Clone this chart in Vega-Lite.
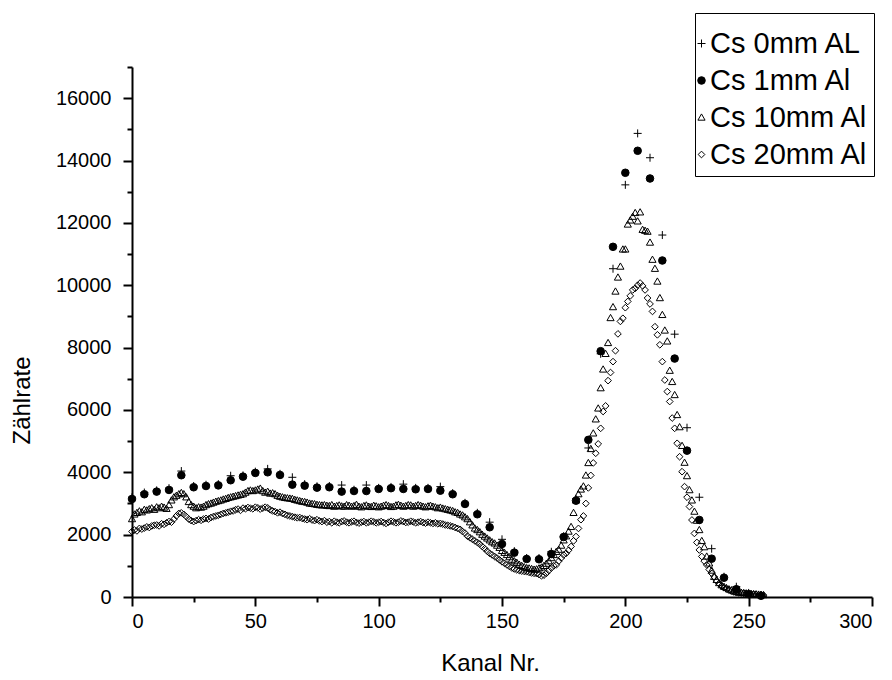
{
"$schema":"https://vega.github.io/schema/vega-lite/v6.json",
"width":740,"height":530,
"autosize":"none",
"padding":{"left":132,"top":67,"right":20,"bottom":83},
"background":"white",
"config":{"view":{"stroke":null},"font":"Liberation Sans"},
"data":{"values":[
{"s":"Cs 0mm AL","k":0,"n":3200},{"s":"Cs 0mm AL","k":5,"n":3350},{"s":"Cs 0mm AL","k":10,"n":3420},{"s":"Cs 0mm AL","k":15,"n":3490},{"s":"Cs 0mm AL","k":20,"n":4040},{"s":"Cs 0mm AL","k":25,"n":3560},{"s":"Cs 0mm AL","k":30,"n":3600},{"s":"Cs 0mm AL","k":35,"n":3620},{"s":"Cs 0mm AL","k":40,"n":3890},{"s":"Cs 0mm AL","k":45,"n":3900},{"s":"Cs 0mm AL","k":50,"n":4020},{"s":"Cs 0mm AL","k":55,"n":4110},{"s":"Cs 0mm AL","k":60,"n":3950},{"s":"Cs 0mm AL","k":65,"n":3840},{"s":"Cs 0mm AL","k":70,"n":3620},{"s":"Cs 0mm AL","k":75,"n":3550},{"s":"Cs 0mm AL","k":80,"n":3560},{"s":"Cs 0mm AL","k":85,"n":3590},{"s":"Cs 0mm AL","k":90,"n":3440},{"s":"Cs 0mm AL","k":95,"n":3590},{"s":"Cs 0mm AL","k":100,"n":3500},{"s":"Cs 0mm AL","k":105,"n":3530},{"s":"Cs 0mm AL","k":110,"n":3620},{"s":"Cs 0mm AL","k":115,"n":3500},{"s":"Cs 0mm AL","k":120,"n":3500},{"s":"Cs 0mm AL","k":125,"n":3540},{"s":"Cs 0mm AL","k":130,"n":3330},{"s":"Cs 0mm AL","k":135,"n":3020},{"s":"Cs 0mm AL","k":140,"n":2700},{"s":"Cs 0mm AL","k":145,"n":2400},{"s":"Cs 0mm AL","k":150,"n":1850},{"s":"Cs 0mm AL","k":155,"n":1470},{"s":"Cs 0mm AL","k":160,"n":1250},{"s":"Cs 0mm AL","k":165,"n":1250},{"s":"Cs 0mm AL","k":170,"n":1450},{"s":"Cs 0mm AL","k":175,"n":1950},{"s":"Cs 0mm AL","k":180,"n":3150},{"s":"Cs 0mm AL","k":185,"n":4780},{"s":"Cs 0mm AL","k":190,"n":7800},{"s":"Cs 0mm AL","k":195,"n":10530},{"s":"Cs 0mm AL","k":200,"n":13220},{"s":"Cs 0mm AL","k":205,"n":14870},{"s":"Cs 0mm AL","k":210,"n":14090},{"s":"Cs 0mm AL","k":215,"n":11610},{"s":"Cs 0mm AL","k":220,"n":8430},{"s":"Cs 0mm AL","k":225,"n":5430},{"s":"Cs 0mm AL","k":230,"n":3200},{"s":"Cs 0mm AL","k":235,"n":1550},{"s":"Cs 0mm AL","k":240,"n":650},{"s":"Cs 0mm AL","k":245,"n":330},{"s":"Cs 0mm AL","k":250,"n":130},{"s":"Cs 0mm AL","k":255,"n":60},
{"s":"Cs 1mm Al","k":0,"n":3145},{"s":"Cs 1mm Al","k":5,"n":3296},{"s":"Cs 1mm Al","k":10,"n":3380},{"s":"Cs 1mm Al","k":15,"n":3434},{"s":"Cs 1mm Al","k":20,"n":3906},{"s":"Cs 1mm Al","k":25,"n":3520},{"s":"Cs 1mm Al","k":30,"n":3560},{"s":"Cs 1mm Al","k":35,"n":3580},{"s":"Cs 1mm Al","k":40,"n":3745},{"s":"Cs 1mm Al","k":45,"n":3860},{"s":"Cs 1mm Al","k":50,"n":3980},{"s":"Cs 1mm Al","k":55,"n":4000},{"s":"Cs 1mm Al","k":60,"n":3915},{"s":"Cs 1mm Al","k":65,"n":3604},{"s":"Cs 1mm Al","k":70,"n":3572},{"s":"Cs 1mm Al","k":75,"n":3508},{"s":"Cs 1mm Al","k":80,"n":3520},{"s":"Cs 1mm Al","k":85,"n":3380},{"s":"Cs 1mm Al","k":90,"n":3400},{"s":"Cs 1mm Al","k":95,"n":3400},{"s":"Cs 1mm Al","k":100,"n":3466},{"s":"Cs 1mm Al","k":105,"n":3490},{"s":"Cs 1mm Al","k":110,"n":3466},{"s":"Cs 1mm Al","k":115,"n":3456},{"s":"Cs 1mm Al","k":120,"n":3466},{"s":"Cs 1mm Al","k":125,"n":3411},{"s":"Cs 1mm Al","k":130,"n":3296},{"s":"Cs 1mm Al","k":135,"n":2985},{"s":"Cs 1mm Al","k":140,"n":2654},{"s":"Cs 1mm Al","k":145,"n":2237},{"s":"Cs 1mm Al","k":150,"n":1701},{"s":"Cs 1mm Al","k":155,"n":1422},{"s":"Cs 1mm Al","k":160,"n":1220},{"s":"Cs 1mm Al","k":165,"n":1210},{"s":"Cs 1mm Al","k":170,"n":1380},{"s":"Cs 1mm Al","k":175,"n":1925},{"s":"Cs 1mm Al","k":180,"n":3090},{"s":"Cs 1mm Al","k":185,"n":5040},{"s":"Cs 1mm Al","k":190,"n":7885},{"s":"Cs 1mm Al","k":195,"n":11232},{"s":"Cs 1mm Al","k":200,"n":13607},{"s":"Cs 1mm Al","k":205,"n":14313},{"s":"Cs 1mm Al","k":210,"n":13424},{"s":"Cs 1mm Al","k":215,"n":10793},{"s":"Cs 1mm Al","k":220,"n":7648},{"s":"Cs 1mm Al","k":225,"n":4695},{"s":"Cs 1mm Al","k":230,"n":2471},{"s":"Cs 1mm Al","k":235,"n":1229},{"s":"Cs 1mm Al","k":240,"n":619},{"s":"Cs 1mm Al","k":245,"n":250},{"s":"Cs 1mm Al","k":250,"n":90},{"s":"Cs 1mm Al","k":255,"n":40},
{"s":"Cs 10mm Al","k":0,"n":2500},{"s":"Cs 10mm Al","k":1,"n":2650},{"s":"Cs 10mm Al","k":2,"n":2700},{"s":"Cs 10mm Al","k":3,"n":2750},{"s":"Cs 10mm Al","k":4,"n":2720},{"s":"Cs 10mm Al","k":5,"n":2800},{"s":"Cs 10mm Al","k":6,"n":2780},{"s":"Cs 10mm Al","k":7,"n":2820},{"s":"Cs 10mm Al","k":8,"n":2850},{"s":"Cs 10mm Al","k":9,"n":2800},{"s":"Cs 10mm Al","k":10,"n":2880},{"s":"Cs 10mm Al","k":11,"n":2850},{"s":"Cs 10mm Al","k":12,"n":2900},{"s":"Cs 10mm Al","k":13,"n":2870},{"s":"Cs 10mm Al","k":14,"n":2830},{"s":"Cs 10mm Al","k":15,"n":2950},{"s":"Cs 10mm Al","k":16,"n":3100},{"s":"Cs 10mm Al","k":17,"n":3200},{"s":"Cs 10mm Al","k":18,"n":3250},{"s":"Cs 10mm Al","k":19,"n":3300},{"s":"Cs 10mm Al","k":20,"n":3340},{"s":"Cs 10mm Al","k":21,"n":3300},{"s":"Cs 10mm Al","k":22,"n":3200},{"s":"Cs 10mm Al","k":23,"n":3050},{"s":"Cs 10mm Al","k":24,"n":2950},{"s":"Cs 10mm Al","k":25,"n":2900},{"s":"Cs 10mm Al","k":26,"n":2850},{"s":"Cs 10mm Al","k":27,"n":2880},{"s":"Cs 10mm Al","k":28,"n":2870},{"s":"Cs 10mm Al","k":29,"n":2900},{"s":"Cs 10mm Al","k":30,"n":2950},{"s":"Cs 10mm Al","k":31,"n":2980},{"s":"Cs 10mm Al","k":32,"n":3000},{"s":"Cs 10mm Al","k":33,"n":3030},{"s":"Cs 10mm Al","k":34,"n":3060},{"s":"Cs 10mm Al","k":35,"n":3080},{"s":"Cs 10mm Al","k":36,"n":3100},{"s":"Cs 10mm Al","k":37,"n":3130},{"s":"Cs 10mm Al","k":38,"n":3150},{"s":"Cs 10mm Al","k":39,"n":3180},{"s":"Cs 10mm Al","k":40,"n":3200},{"s":"Cs 10mm Al","k":41,"n":3220},{"s":"Cs 10mm Al","k":42,"n":3240},{"s":"Cs 10mm Al","k":43,"n":3260},{"s":"Cs 10mm Al","k":44,"n":3280},{"s":"Cs 10mm Al","k":45,"n":3300},{"s":"Cs 10mm Al","k":46,"n":3350},{"s":"Cs 10mm Al","k":47,"n":3400},{"s":"Cs 10mm Al","k":48,"n":3420},{"s":"Cs 10mm Al","k":49,"n":3400},{"s":"Cs 10mm Al","k":50,"n":3420},{"s":"Cs 10mm Al","k":51,"n":3450},{"s":"Cs 10mm Al","k":52,"n":3480},{"s":"Cs 10mm Al","k":53,"n":3400},{"s":"Cs 10mm Al","k":54,"n":3350},{"s":"Cs 10mm Al","k":55,"n":3380},{"s":"Cs 10mm Al","k":56,"n":3320},{"s":"Cs 10mm Al","k":57,"n":3330},{"s":"Cs 10mm Al","k":58,"n":3300},{"s":"Cs 10mm Al","k":59,"n":3250},{"s":"Cs 10mm Al","k":60,"n":3220},{"s":"Cs 10mm Al","k":61,"n":3200},{"s":"Cs 10mm Al","k":62,"n":3180},{"s":"Cs 10mm Al","k":63,"n":3170},{"s":"Cs 10mm Al","k":64,"n":3160},{"s":"Cs 10mm Al","k":65,"n":3150},{"s":"Cs 10mm Al","k":66,"n":3120},{"s":"Cs 10mm Al","k":67,"n":3100},{"s":"Cs 10mm Al","k":68,"n":3080},{"s":"Cs 10mm Al","k":69,"n":3060},{"s":"Cs 10mm Al","k":70,"n":3050},{"s":"Cs 10mm Al","k":71,"n":3030},{"s":"Cs 10mm Al","k":72,"n":3000},{"s":"Cs 10mm Al","k":73,"n":2990},{"s":"Cs 10mm Al","k":74,"n":2980},{"s":"Cs 10mm Al","k":75,"n":2960},{"s":"Cs 10mm Al","k":76,"n":2950},{"s":"Cs 10mm Al","k":77,"n":2940},{"s":"Cs 10mm Al","k":78,"n":2950},{"s":"Cs 10mm Al","k":79,"n":2930},{"s":"Cs 10mm Al","k":80,"n":2920},{"s":"Cs 10mm Al","k":81,"n":2950},{"s":"Cs 10mm Al","k":82,"n":2900},{"s":"Cs 10mm Al","k":83,"n":2920},{"s":"Cs 10mm Al","k":84,"n":2940},{"s":"Cs 10mm Al","k":85,"n":2910},{"s":"Cs 10mm Al","k":86,"n":2900},{"s":"Cs 10mm Al","k":87,"n":2950},{"s":"Cs 10mm Al","k":88,"n":2930},{"s":"Cs 10mm Al","k":89,"n":2900},{"s":"Cs 10mm Al","k":90,"n":2920},{"s":"Cs 10mm Al","k":91,"n":2960},{"s":"Cs 10mm Al","k":92,"n":2900},{"s":"Cs 10mm Al","k":93,"n":2880},{"s":"Cs 10mm Al","k":94,"n":2920},{"s":"Cs 10mm Al","k":95,"n":2940},{"s":"Cs 10mm Al","k":96,"n":2900},{"s":"Cs 10mm Al","k":97,"n":2890},{"s":"Cs 10mm Al","k":98,"n":2930},{"s":"Cs 10mm Al","k":99,"n":2910},{"s":"Cs 10mm Al","k":100,"n":2880},{"s":"Cs 10mm Al","k":101,"n":2900},{"s":"Cs 10mm Al","k":102,"n":2930},{"s":"Cs 10mm Al","k":103,"n":2950},{"s":"Cs 10mm Al","k":104,"n":2920},{"s":"Cs 10mm Al","k":105,"n":2890},{"s":"Cs 10mm Al","k":106,"n":2900},{"s":"Cs 10mm Al","k":107,"n":2940},{"s":"Cs 10mm Al","k":108,"n":2960},{"s":"Cs 10mm Al","k":109,"n":2930},{"s":"Cs 10mm Al","k":110,"n":2900},{"s":"Cs 10mm Al","k":111,"n":2920},{"s":"Cs 10mm Al","k":112,"n":2950},{"s":"Cs 10mm Al","k":113,"n":2940},{"s":"Cs 10mm Al","k":114,"n":2900},{"s":"Cs 10mm Al","k":115,"n":2920},{"s":"Cs 10mm Al","k":116,"n":2950},{"s":"Cs 10mm Al","k":117,"n":2930},{"s":"Cs 10mm Al","k":118,"n":2900},{"s":"Cs 10mm Al","k":119,"n":2880},{"s":"Cs 10mm Al","k":120,"n":2910},{"s":"Cs 10mm Al","k":121,"n":2930},{"s":"Cs 10mm Al","k":122,"n":2900},{"s":"Cs 10mm Al","k":123,"n":2880},{"s":"Cs 10mm Al","k":124,"n":2850},{"s":"Cs 10mm Al","k":125,"n":2870},{"s":"Cs 10mm Al","k":126,"n":2840},{"s":"Cs 10mm Al","k":127,"n":2820},{"s":"Cs 10mm Al","k":128,"n":2800},{"s":"Cs 10mm Al","k":129,"n":2780},{"s":"Cs 10mm Al","k":130,"n":2760},{"s":"Cs 10mm Al","k":131,"n":2720},{"s":"Cs 10mm Al","k":132,"n":2700},{"s":"Cs 10mm Al","k":133,"n":2650},{"s":"Cs 10mm Al","k":134,"n":2620},{"s":"Cs 10mm Al","k":135,"n":2560},{"s":"Cs 10mm Al","k":136,"n":2500},{"s":"Cs 10mm Al","k":137,"n":2400},{"s":"Cs 10mm Al","k":138,"n":2300},{"s":"Cs 10mm Al","k":139,"n":2200},{"s":"Cs 10mm Al","k":140,"n":2150},{"s":"Cs 10mm Al","k":141,"n":2080},{"s":"Cs 10mm Al","k":142,"n":2000},{"s":"Cs 10mm Al","k":143,"n":1940},{"s":"Cs 10mm Al","k":144,"n":1880},{"s":"Cs 10mm Al","k":145,"n":1820},{"s":"Cs 10mm Al","k":146,"n":1760},{"s":"Cs 10mm Al","k":147,"n":1720},{"s":"Cs 10mm Al","k":148,"n":1650},{"s":"Cs 10mm Al","k":149,"n":1580},{"s":"Cs 10mm Al","k":150,"n":1480},{"s":"Cs 10mm Al","k":151,"n":1420},{"s":"Cs 10mm Al","k":152,"n":1350},{"s":"Cs 10mm Al","k":153,"n":1280},{"s":"Cs 10mm Al","k":154,"n":1200},{"s":"Cs 10mm Al","k":155,"n":1150},{"s":"Cs 10mm Al","k":156,"n":1100},{"s":"Cs 10mm Al","k":157,"n":1040},{"s":"Cs 10mm Al","k":158,"n":1000},{"s":"Cs 10mm Al","k":159,"n":960},{"s":"Cs 10mm Al","k":160,"n":930},{"s":"Cs 10mm Al","k":161,"n":920},{"s":"Cs 10mm Al","k":162,"n":900},{"s":"Cs 10mm Al","k":163,"n":880},{"s":"Cs 10mm Al","k":164,"n":890},{"s":"Cs 10mm Al","k":165,"n":920},{"s":"Cs 10mm Al","k":166,"n":950},{"s":"Cs 10mm Al","k":167,"n":1000},{"s":"Cs 10mm Al","k":168,"n":1070},{"s":"Cs 10mm Al","k":169,"n":1150},{"s":"Cs 10mm Al","k":170,"n":1250},{"s":"Cs 10mm Al","k":171,"n":1350},{"s":"Cs 10mm Al","k":172,"n":1450},{"s":"Cs 10mm Al","k":173,"n":1520},{"s":"Cs 10mm Al","k":174,"n":1650},{"s":"Cs 10mm Al","k":175,"n":1820},{"s":"Cs 10mm Al","k":176,"n":1950},{"s":"Cs 10mm Al","k":177,"n":2100},{"s":"Cs 10mm Al","k":178,"n":2250},{"s":"Cs 10mm Al","k":179,"n":2700},{"s":"Cs 10mm Al","k":180,"n":3100},{"s":"Cs 10mm Al","k":181,"n":3300},{"s":"Cs 10mm Al","k":182,"n":3450},{"s":"Cs 10mm Al","k":183,"n":3550},{"s":"Cs 10mm Al","k":184,"n":3900},{"s":"Cs 10mm Al","k":185,"n":4300},{"s":"Cs 10mm Al","k":186,"n":4750},{"s":"Cs 10mm Al","k":187,"n":5250},{"s":"Cs 10mm Al","k":188,"n":5700},{"s":"Cs 10mm Al","k":189,"n":6050},{"s":"Cs 10mm Al","k":190,"n":6700},{"s":"Cs 10mm Al","k":191,"n":7300},{"s":"Cs 10mm Al","k":192,"n":7800},{"s":"Cs 10mm Al","k":193,"n":8150},{"s":"Cs 10mm Al","k":194,"n":8950},{"s":"Cs 10mm Al","k":195,"n":9300},{"s":"Cs 10mm Al","k":196,"n":9800},{"s":"Cs 10mm Al","k":197,"n":10250},{"s":"Cs 10mm Al","k":198,"n":10600},{"s":"Cs 10mm Al","k":199,"n":11150},{"s":"Cs 10mm Al","k":200,"n":11150},{"s":"Cs 10mm Al","k":201,"n":11950},{"s":"Cs 10mm Al","k":202,"n":12080},{"s":"Cs 10mm Al","k":203,"n":12200},{"s":"Cs 10mm Al","k":204,"n":12320},{"s":"Cs 10mm Al","k":205,"n":12050},{"s":"Cs 10mm Al","k":206,"n":12340},{"s":"Cs 10mm Al","k":207,"n":11780},{"s":"Cs 10mm Al","k":208,"n":11750},{"s":"Cs 10mm Al","k":209,"n":11720},{"s":"Cs 10mm Al","k":210,"n":11370},{"s":"Cs 10mm Al","k":211,"n":10820},{"s":"Cs 10mm Al","k":212,"n":10530},{"s":"Cs 10mm Al","k":213,"n":10120},{"s":"Cs 10mm Al","k":214,"n":9590},{"s":"Cs 10mm Al","k":215,"n":9050},{"s":"Cs 10mm Al","k":216,"n":8550},{"s":"Cs 10mm Al","k":217,"n":8200},{"s":"Cs 10mm Al","k":218,"n":7260},{"s":"Cs 10mm Al","k":219,"n":6900},{"s":"Cs 10mm Al","k":220,"n":6480},{"s":"Cs 10mm Al","k":221,"n":5840},{"s":"Cs 10mm Al","k":222,"n":5450},{"s":"Cs 10mm Al","k":223,"n":4850},{"s":"Cs 10mm Al","k":224,"n":4310},{"s":"Cs 10mm Al","k":225,"n":3880},{"s":"Cs 10mm Al","k":226,"n":3430},{"s":"Cs 10mm Al","k":227,"n":3100},{"s":"Cs 10mm Al","k":228,"n":2740},{"s":"Cs 10mm Al","k":229,"n":2450},{"s":"Cs 10mm Al","k":230,"n":2150},{"s":"Cs 10mm Al","k":231,"n":1800},{"s":"Cs 10mm Al","k":232,"n":1600},{"s":"Cs 10mm Al","k":233,"n":1300},{"s":"Cs 10mm Al","k":234,"n":1080},{"s":"Cs 10mm Al","k":235,"n":850},{"s":"Cs 10mm Al","k":236,"n":650},{"s":"Cs 10mm Al","k":237,"n":550},{"s":"Cs 10mm Al","k":238,"n":450},{"s":"Cs 10mm Al","k":239,"n":380},{"s":"Cs 10mm Al","k":240,"n":330},{"s":"Cs 10mm Al","k":241,"n":290},{"s":"Cs 10mm Al","k":242,"n":250},{"s":"Cs 10mm Al","k":243,"n":220},{"s":"Cs 10mm Al","k":244,"n":190},{"s":"Cs 10mm Al","k":245,"n":170},{"s":"Cs 10mm Al","k":246,"n":150},{"s":"Cs 10mm Al","k":247,"n":140},{"s":"Cs 10mm Al","k":248,"n":130},{"s":"Cs 10mm Al","k":249,"n":120},{"s":"Cs 10mm Al","k":250,"n":110},{"s":"Cs 10mm Al","k":251,"n":100},{"s":"Cs 10mm Al","k":252,"n":96},{"s":"Cs 10mm Al","k":253,"n":90},{"s":"Cs 10mm Al","k":254,"n":80},{"s":"Cs 10mm Al","k":255,"n":70},{"s":"Cs 10mm Al","k":256,"n":64},
{"s":"Cs 20mm Al","k":0,"n":2100},{"s":"Cs 20mm Al","k":1,"n":2150},{"s":"Cs 20mm Al","k":2,"n":2120},{"s":"Cs 20mm Al","k":3,"n":2200},{"s":"Cs 20mm Al","k":4,"n":2180},{"s":"Cs 20mm Al","k":5,"n":2210},{"s":"Cs 20mm Al","k":6,"n":2250},{"s":"Cs 20mm Al","k":7,"n":2230},{"s":"Cs 20mm Al","k":8,"n":2280},{"s":"Cs 20mm Al","k":9,"n":2300},{"s":"Cs 20mm Al","k":10,"n":2310},{"s":"Cs 20mm Al","k":11,"n":2280},{"s":"Cs 20mm Al","k":12,"n":2350},{"s":"Cs 20mm Al","k":13,"n":2330},{"s":"Cs 20mm Al","k":14,"n":2380},{"s":"Cs 20mm Al","k":15,"n":2420},{"s":"Cs 20mm Al","k":16,"n":2400},{"s":"Cs 20mm Al","k":17,"n":2500},{"s":"Cs 20mm Al","k":18,"n":2600},{"s":"Cs 20mm Al","k":19,"n":2680},{"s":"Cs 20mm Al","k":20,"n":2700},{"s":"Cs 20mm Al","k":21,"n":2650},{"s":"Cs 20mm Al","k":22,"n":2580},{"s":"Cs 20mm Al","k":23,"n":2500},{"s":"Cs 20mm Al","k":24,"n":2450},{"s":"Cs 20mm Al","k":25,"n":2420},{"s":"Cs 20mm Al","k":26,"n":2450},{"s":"Cs 20mm Al","k":27,"n":2480},{"s":"Cs 20mm Al","k":28,"n":2460},{"s":"Cs 20mm Al","k":29,"n":2500},{"s":"Cs 20mm Al","k":30,"n":2520},{"s":"Cs 20mm Al","k":31,"n":2500},{"s":"Cs 20mm Al","k":32,"n":2550},{"s":"Cs 20mm Al","k":33,"n":2580},{"s":"Cs 20mm Al","k":34,"n":2600},{"s":"Cs 20mm Al","k":35,"n":2620},{"s":"Cs 20mm Al","k":36,"n":2650},{"s":"Cs 20mm Al","k":37,"n":2680},{"s":"Cs 20mm Al","k":38,"n":2700},{"s":"Cs 20mm Al","k":39,"n":2720},{"s":"Cs 20mm Al","k":40,"n":2750},{"s":"Cs 20mm Al","k":41,"n":2760},{"s":"Cs 20mm Al","k":42,"n":2800},{"s":"Cs 20mm Al","k":43,"n":2820},{"s":"Cs 20mm Al","k":44,"n":2780},{"s":"Cs 20mm Al","k":45,"n":2850},{"s":"Cs 20mm Al","k":46,"n":2830},{"s":"Cs 20mm Al","k":47,"n":2870},{"s":"Cs 20mm Al","k":48,"n":2850},{"s":"Cs 20mm Al","k":49,"n":2830},{"s":"Cs 20mm Al","k":50,"n":2880},{"s":"Cs 20mm Al","k":51,"n":2860},{"s":"Cs 20mm Al","k":52,"n":2820},{"s":"Cs 20mm Al","k":53,"n":2850},{"s":"Cs 20mm Al","k":54,"n":2880},{"s":"Cs 20mm Al","k":55,"n":2860},{"s":"Cs 20mm Al","k":56,"n":2800},{"s":"Cs 20mm Al","k":57,"n":2760},{"s":"Cs 20mm Al","k":58,"n":2740},{"s":"Cs 20mm Al","k":59,"n":2700},{"s":"Cs 20mm Al","k":60,"n":2720},{"s":"Cs 20mm Al","k":61,"n":2680},{"s":"Cs 20mm Al","k":62,"n":2650},{"s":"Cs 20mm Al","k":63,"n":2620},{"s":"Cs 20mm Al","k":64,"n":2600},{"s":"Cs 20mm Al","k":65,"n":2580},{"s":"Cs 20mm Al","k":66,"n":2560},{"s":"Cs 20mm Al","k":67,"n":2540},{"s":"Cs 20mm Al","k":68,"n":2550},{"s":"Cs 20mm Al","k":69,"n":2520},{"s":"Cs 20mm Al","k":70,"n":2500},{"s":"Cs 20mm Al","k":71,"n":2480},{"s":"Cs 20mm Al","k":72,"n":2510},{"s":"Cs 20mm Al","k":73,"n":2470},{"s":"Cs 20mm Al","k":74,"n":2450},{"s":"Cs 20mm Al","k":75,"n":2480},{"s":"Cs 20mm Al","k":76,"n":2440},{"s":"Cs 20mm Al","k":77,"n":2420},{"s":"Cs 20mm Al","k":78,"n":2450},{"s":"Cs 20mm Al","k":79,"n":2400},{"s":"Cs 20mm Al","k":80,"n":2420},{"s":"Cs 20mm Al","k":81,"n":2380},{"s":"Cs 20mm Al","k":82,"n":2430},{"s":"Cs 20mm Al","k":83,"n":2400},{"s":"Cs 20mm Al","k":84,"n":2380},{"s":"Cs 20mm Al","k":85,"n":2420},{"s":"Cs 20mm Al","k":86,"n":2440},{"s":"Cs 20mm Al","k":87,"n":2400},{"s":"Cs 20mm Al","k":88,"n":2380},{"s":"Cs 20mm Al","k":89,"n":2410},{"s":"Cs 20mm Al","k":90,"n":2430},{"s":"Cs 20mm Al","k":91,"n":2390},{"s":"Cs 20mm Al","k":92,"n":2370},{"s":"Cs 20mm Al","k":93,"n":2400},{"s":"Cs 20mm Al","k":94,"n":2420},{"s":"Cs 20mm Al","k":95,"n":2380},{"s":"Cs 20mm Al","k":96,"n":2400},{"s":"Cs 20mm Al","k":97,"n":2430},{"s":"Cs 20mm Al","k":98,"n":2410},{"s":"Cs 20mm Al","k":99,"n":2380},{"s":"Cs 20mm Al","k":100,"n":2400},{"s":"Cs 20mm Al","k":101,"n":2420},{"s":"Cs 20mm Al","k":102,"n":2390},{"s":"Cs 20mm Al","k":103,"n":2360},{"s":"Cs 20mm Al","k":104,"n":2400},{"s":"Cs 20mm Al","k":105,"n":2430},{"s":"Cs 20mm Al","k":106,"n":2410},{"s":"Cs 20mm Al","k":107,"n":2380},{"s":"Cs 20mm Al","k":108,"n":2400},{"s":"Cs 20mm Al","k":109,"n":2440},{"s":"Cs 20mm Al","k":110,"n":2420},{"s":"Cs 20mm Al","k":111,"n":2390},{"s":"Cs 20mm Al","k":112,"n":2400},{"s":"Cs 20mm Al","k":113,"n":2430},{"s":"Cs 20mm Al","k":114,"n":2410},{"s":"Cs 20mm Al","k":115,"n":2380},{"s":"Cs 20mm Al","k":116,"n":2400},{"s":"Cs 20mm Al","k":117,"n":2420},{"s":"Cs 20mm Al","k":118,"n":2390},{"s":"Cs 20mm Al","k":119,"n":2370},{"s":"Cs 20mm Al","k":120,"n":2400},{"s":"Cs 20mm Al","k":121,"n":2380},{"s":"Cs 20mm Al","k":122,"n":2360},{"s":"Cs 20mm Al","k":123,"n":2380},{"s":"Cs 20mm Al","k":124,"n":2350},{"s":"Cs 20mm Al","k":125,"n":2360},{"s":"Cs 20mm Al","k":126,"n":2340},{"s":"Cs 20mm Al","k":127,"n":2310},{"s":"Cs 20mm Al","k":128,"n":2300},{"s":"Cs 20mm Al","k":129,"n":2280},{"s":"Cs 20mm Al","k":130,"n":2260},{"s":"Cs 20mm Al","k":131,"n":2230},{"s":"Cs 20mm Al","k":132,"n":2200},{"s":"Cs 20mm Al","k":133,"n":2170},{"s":"Cs 20mm Al","k":134,"n":2100},{"s":"Cs 20mm Al","k":135,"n":2050},{"s":"Cs 20mm Al","k":136,"n":1950},{"s":"Cs 20mm Al","k":137,"n":1900},{"s":"Cs 20mm Al","k":138,"n":1850},{"s":"Cs 20mm Al","k":139,"n":1800},{"s":"Cs 20mm Al","k":140,"n":1750},{"s":"Cs 20mm Al","k":141,"n":1700},{"s":"Cs 20mm Al","k":142,"n":1620},{"s":"Cs 20mm Al","k":143,"n":1550},{"s":"Cs 20mm Al","k":144,"n":1470},{"s":"Cs 20mm Al","k":145,"n":1400},{"s":"Cs 20mm Al","k":146,"n":1350},{"s":"Cs 20mm Al","k":147,"n":1300},{"s":"Cs 20mm Al","k":148,"n":1250},{"s":"Cs 20mm Al","k":149,"n":1190},{"s":"Cs 20mm Al","k":150,"n":1130},{"s":"Cs 20mm Al","k":151,"n":1080},{"s":"Cs 20mm Al","k":152,"n":1030},{"s":"Cs 20mm Al","k":153,"n":980},{"s":"Cs 20mm Al","k":154,"n":930},{"s":"Cs 20mm Al","k":155,"n":900},{"s":"Cs 20mm Al","k":156,"n":870},{"s":"Cs 20mm Al","k":157,"n":850},{"s":"Cs 20mm Al","k":158,"n":830},{"s":"Cs 20mm Al","k":159,"n":820},{"s":"Cs 20mm Al","k":160,"n":810},{"s":"Cs 20mm Al","k":161,"n":790},{"s":"Cs 20mm Al","k":162,"n":770},{"s":"Cs 20mm Al","k":163,"n":760},{"s":"Cs 20mm Al","k":164,"n":750},{"s":"Cs 20mm Al","k":165,"n":720},{"s":"Cs 20mm Al","k":166,"n":680},{"s":"Cs 20mm Al","k":167,"n":700},{"s":"Cs 20mm Al","k":168,"n":760},{"s":"Cs 20mm Al","k":169,"n":850},{"s":"Cs 20mm Al","k":170,"n":930},{"s":"Cs 20mm Al","k":171,"n":1000},{"s":"Cs 20mm Al","k":172,"n":1030},{"s":"Cs 20mm Al","k":173,"n":1150},{"s":"Cs 20mm Al","k":174,"n":1250},{"s":"Cs 20mm Al","k":175,"n":1350},{"s":"Cs 20mm Al","k":176,"n":1400},{"s":"Cs 20mm Al","k":177,"n":1500},{"s":"Cs 20mm Al","k":178,"n":1620},{"s":"Cs 20mm Al","k":179,"n":1800},{"s":"Cs 20mm Al","k":180,"n":1940},{"s":"Cs 20mm Al","k":181,"n":2200},{"s":"Cs 20mm Al","k":182,"n":2480},{"s":"Cs 20mm Al","k":183,"n":2600},{"s":"Cs 20mm Al","k":184,"n":3000},{"s":"Cs 20mm Al","k":185,"n":3500},{"s":"Cs 20mm Al","k":186,"n":3900},{"s":"Cs 20mm Al","k":187,"n":4300},{"s":"Cs 20mm Al","k":188,"n":4610},{"s":"Cs 20mm Al","k":189,"n":4910},{"s":"Cs 20mm Al","k":190,"n":5410},{"s":"Cs 20mm Al","k":191,"n":5950},{"s":"Cs 20mm Al","k":192,"n":6130},{"s":"Cs 20mm Al","k":193,"n":6940},{"s":"Cs 20mm Al","k":194,"n":7200},{"s":"Cs 20mm Al","k":195,"n":7550},{"s":"Cs 20mm Al","k":196,"n":7900},{"s":"Cs 20mm Al","k":197,"n":8440},{"s":"Cs 20mm Al","k":198,"n":8840},{"s":"Cs 20mm Al","k":199,"n":8940},{"s":"Cs 20mm Al","k":200,"n":9280},{"s":"Cs 20mm Al","k":201,"n":9480},{"s":"Cs 20mm Al","k":202,"n":9660},{"s":"Cs 20mm Al","k":203,"n":9850},{"s":"Cs 20mm Al","k":204,"n":9900},{"s":"Cs 20mm Al","k":205,"n":10000},{"s":"Cs 20mm Al","k":206,"n":10070},{"s":"Cs 20mm Al","k":207,"n":9980},{"s":"Cs 20mm Al","k":208,"n":9850},{"s":"Cs 20mm Al","k":209,"n":9590},{"s":"Cs 20mm Al","k":210,"n":9400},{"s":"Cs 20mm Al","k":211,"n":9160},{"s":"Cs 20mm Al","k":212,"n":8670},{"s":"Cs 20mm Al","k":213,"n":8410},{"s":"Cs 20mm Al","k":214,"n":8090},{"s":"Cs 20mm Al","k":215,"n":7550},{"s":"Cs 20mm Al","k":216,"n":6960},{"s":"Cs 20mm Al","k":217,"n":6590},{"s":"Cs 20mm Al","k":218,"n":6270},{"s":"Cs 20mm Al","k":219,"n":5740},{"s":"Cs 20mm Al","k":220,"n":5410},{"s":"Cs 20mm Al","k":221,"n":4930},{"s":"Cs 20mm Al","k":222,"n":4500},{"s":"Cs 20mm Al","k":223,"n":4020},{"s":"Cs 20mm Al","k":224,"n":3540},{"s":"Cs 20mm Al","k":225,"n":3200},{"s":"Cs 20mm Al","k":226,"n":2900},{"s":"Cs 20mm Al","k":227,"n":2470},{"s":"Cs 20mm Al","k":228,"n":2040},{"s":"Cs 20mm Al","k":229,"n":1750},{"s":"Cs 20mm Al","k":230,"n":1510},{"s":"Cs 20mm Al","k":231,"n":1300},{"s":"Cs 20mm Al","k":232,"n":1150},{"s":"Cs 20mm Al","k":233,"n":1030},{"s":"Cs 20mm Al","k":234,"n":880},{"s":"Cs 20mm Al","k":235,"n":760},{"s":"Cs 20mm Al","k":236,"n":650},{"s":"Cs 20mm Al","k":237,"n":520},{"s":"Cs 20mm Al","k":238,"n":430},{"s":"Cs 20mm Al","k":239,"n":350},{"s":"Cs 20mm Al","k":240,"n":300},{"s":"Cs 20mm Al","k":241,"n":260},{"s":"Cs 20mm Al","k":242,"n":220},{"s":"Cs 20mm Al","k":243,"n":190},{"s":"Cs 20mm Al","k":244,"n":160},{"s":"Cs 20mm Al","k":245,"n":140},{"s":"Cs 20mm Al","k":246,"n":130},{"s":"Cs 20mm Al","k":247,"n":125},{"s":"Cs 20mm Al","k":248,"n":120},{"s":"Cs 20mm Al","k":249,"n":115},{"s":"Cs 20mm Al","k":250,"n":105},{"s":"Cs 20mm Al","k":251,"n":95},{"s":"Cs 20mm Al","k":252,"n":85},{"s":"Cs 20mm Al","k":253,"n":75},{"s":"Cs 20mm Al","k":254,"n":70},{"s":"Cs 20mm Al","k":255,"n":65},{"s":"Cs 20mm Al","k":256,"n":60}
]},
"mark":{"type":"point","filled":true,"stroke":"black","strokeWidth":1,"opacity":1},
"encoding":{
"x":{"field":"k","type":"quantitative","title":"Kanal Nr.",
"scale":{"domain":[0,300],"nice":false,"zero":false},
"axis":{"values":[0,25,50,75,100,125,150,175,200,225,250,275,300],"labelExpr":"datum.value % 50 === 0 ? datum.label : ''",
"grid":false,"domainColor":"black","domainWidth":2,"tickColor":"black","tickWidth":2,
"tickSize":{"condition":{"test":"datum.value % 50 === 0","value":9},"value":5},
"labelFont":"Liberation Sans","labelFontSize":20,"labelColor":"black","labelPadding":5,
"titleFont":"Liberation Sans","titleFontSize":24,"titleFontWeight":"normal","titleColor":"black","titleX":358,"titleY":66,"titleBaseline":"middle","titleAnchor":"middle","titleAlign":"center"}},
"y":{"field":"n","type":"quantitative","title":"Zählrate",
"scale":{"domain":[0,17000],"nice":false,"zero":true},
"axis":{"values":[0,1000,2000,3000,4000,5000,6000,7000,8000,9000,10000,11000,12000,13000,14000,15000,16000,17000],"labelExpr":"datum.value % 2000 === 0 && datum.value < 17000 ? '' + datum.value : ''",
"grid":false,"domainColor":"black","domainWidth":2,"tickColor":"black","tickWidth":2,
"tickSize":{"condition":{"test":"datum.value % 2000 === 0","value":9},"value":5},
"labelFont":"Liberation Sans","labelFontSize":20,"labelColor":"black","labelPadding":12,
"titleFont":"Liberation Sans","titleFontSize":24,"titleFontWeight":"normal","titleColor":"black","titleX":-110,"titleY":333,"titleBaseline":"middle","titleAlign":"center","titleAngle":-90}},
"shape":{"field":"s","type":"nominal",
"scale":{"domain":["Cs 0mm AL","Cs 1mm Al","Cs 10mm Al","Cs 20mm Al"],"range":["M-1,0H1M0,-1V1","circle","M0,-1L1,0.75L-1,0.75Z","M0,-1L1,0L0,1L-1,0Z"]},
"legend":{"title":" ","titleFontSize":8,"titlePadding":2,"orient":"none","legendX":563,"legendY":-54,"strokeColor":"black","fillColor":"white","padding":6,"symbolOffset":-14,"labelFont":"Liberation Sans","labelFontSize":29,"labelColor":"black","labelLimit":300,"labelOffset":-6,"rowPadding":7,"symbolStrokeColor":"black","symbolStrokeWidth":1}},
"fill":{"field":"s","type":"nominal",
"scale":{"domain":["Cs 0mm AL","Cs 1mm Al","Cs 10mm Al","Cs 20mm Al"],"range":["transparent","black","transparent","transparent"]}},
"size":{"field":"s","type":"nominal",
"scale":{"domain":["Cs 0mm AL","Cs 1mm Al","Cs 10mm Al","Cs 20mm Al"],"range":[64,45,100,72]}}
}
}
